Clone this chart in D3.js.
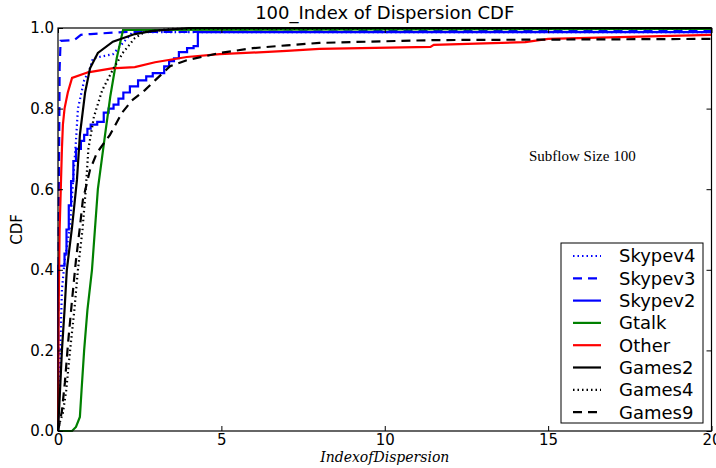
<!DOCTYPE html>
<html>
<head>
<meta charset="utf-8">
<script src="https://cdn.jsdelivr.net/npm/d3@7"></script>
<style>
  body { margin: 0; background: #fff; }
  #chart svg { display: block; }
</style>
</head>
<body>
<div id="chart"></div>
<script>
// Series, [index of dispersion, CDF]
const skypev4 = [[0, 0], [0.05, 0.15], [0.12, 0.35], [0.2, 0.42], [0.37, 0.51], [0.46, 0.62], [0.55, 0.72],
  [0.61, 0.8], [0.8, 0.87], [0.98, 0.9], [1.07, 0.925], [1.68, 0.935], [1.99, 0.963], [2.29, 0.99], [20, 0.99]];
const skypev3 = [[0, 0], [0.02, 0.5], [0.05, 0.9], [0.08, 0.968], [0.5, 0.97], [0.7, 0.983], [1.0, 0.985],
  [2.0, 0.99], [20, 0.995]];
const skypev2 = [[0, 0], [0, 0.41], [0.2, 0.44], [0.26, 0.5], [0.33, 0.56], [0.4, 0.62], [0.47, 0.67], [0.55, 0.7],
  [0.7, 0.72], [0.8, 0.735], [0.9, 0.75], [1.0, 0.76], [1.2, 0.767], [1.4, 0.79], [1.55, 0.8], [1.7, 0.81],
  [1.85, 0.825], [2.0, 0.84], [2.2, 0.855], [2.45, 0.87], [2.7, 0.88], [2.9, 0.888], [3.25, 0.905], [3.4, 0.918],
  [3.55, 0.925], [3.7, 0.94], [3.95, 0.95], [4.15, 0.955], [4.28, 0.99], [20, 0.99]];
const gtalk = [[0, 0], [0.43, 0], [0.55, 0.01], [0.67, 0.035], [0.72, 0.1], [0.8, 0.2], [0.9, 0.3], [1.04, 0.4],
  [1.22, 0.6], [1.44, 0.735], [1.6, 0.83], [1.8, 0.926], [1.99, 0.995], [20, 0.998]];
const other = [[0, 0], [0.02, 0.3], [0.05, 0.5], [0.12, 0.7], [0.15, 0.76], [0.2, 0.8], [0.3, 0.84], [0.43, 0.876],
  [0.92, 0.89], [1.65, 0.9], [2.35, 0.903], [2.97, 0.915], [3.94, 0.928], [4.95, 0.935], [7, 0.943], [8, 0.948],
  [11.4, 0.953], [11.5, 0.958], [14.3, 0.965], [15, 0.973], [20, 0.983]];
const games2 = [[0, 0], [0.05, 0.08], [0.12, 0.2], [0.2, 0.3], [0.27, 0.4], [0.43, 0.506], [0.58, 0.623],
  [0.67, 0.735], [0.83, 0.84], [0.98, 0.9], [1.22, 0.938], [1.68, 0.966], [2.35, 0.985], [2.9, 0.993], [4, 1.0], [20, 1.0]];
const games4 = [[0, 0], [0.05, 0.02], [0.15, 0.045], [0.25, 0.1], [0.37, 0.2], [0.5, 0.3], [0.61, 0.4], [0.75, 0.5],
  [0.85, 0.6], [0.93, 0.7], [1.1, 0.78], [1.35, 0.845], [1.7, 0.9], [2.0, 0.94], [2.35, 0.975], [2.65, 0.99],
  [3.5, 0.998], [20, 1.0]];
const games9 = [[0, 0], [0.05, 0.02], [0.12, 0.05], [0.21, 0.12], [0.31, 0.22], [0.43, 0.325], [0.55, 0.424],
  [0.67, 0.506], [0.76, 0.573], [0.98, 0.648], [1.19, 0.69], [1.59, 0.735], [1.96, 0.79], [2.26, 0.82],
  [2.66, 0.846], [2.97, 0.87], [3.43, 0.905], [3.94, 0.92], [4.95, 0.938], [5.96, 0.95], [7, 0.957], [8, 0.963],
  [9.45, 0.966], [11.5, 0.97], [20, 0.973]];

const seriesNames = ["Skypev4", "Skypev3", "Skypev2", "Gtalk", "Other", "Games2", "Games4", "Games9"];
const xTicks = [0, 5, 10, 15, 20];
const yTicks = [0, 0.2, 0.4, 0.6, 0.8, 1.0];

// line styles per series
const styles = [
  { data: skypev4, color: "#0000ff", dash: "1.5,3" },
  { data: skypev3, color: "#0000ff", dash: "9,6" },
  { data: skypev2, color: "#0000ff", dash: null, step: true },
  { data: gtalk, color: "#008000", dash: null },
  { data: other, color: "#ff0000", dash: null },
  { data: games2, color: "#000000", dash: null },
  { data: games4, color: "#000000", dash: "1.5,3" },
  { data: games9, color: "#000000", dash: "9,6" }
];

const width = 716,
      height = 468;
const margin = { top: 28, right: 4, bottom: 37, left: 58 };

const svg = d3.select("#chart")
  .append("svg")
  .attr("width", width)
  .attr("height", height);

const x = d3.scaleLinear().domain([0, 20]).range([margin.left, width - margin.right - 0.5]);
const y = d3.scaleLinear().domain([0, 1]).range([height - margin.bottom, margin.top]);

svg.append("clipPath").attr("id", "plot-clip")
  .append("rect")
  .attr("x", x(0) - 1).attr("y", y(1) - 2)
  .attr("width", x(20) - x(0) + 2).attr("height", y(0) - y(1) + 4);

// lines
const plot = svg.append("g").attr("clip-path", "url(#plot-clip)");
styles.forEach(s => {
  const line = d3.line()
    .x(d => x(d[0]))
    .y(d => y(d[1]))
    .curve(s.step ? d3.curveStepAfter : d3.curveLinear);
  plot.append("path")
    .datum(s.data)
    .attr("fill", "none")
    .attr("stroke", s.color)
    .attr("stroke-width", 2.2)
    .attr("stroke-dasharray", s.dash)
    .attr("d", line);
});

// axes: ticks point inward on all four sides, like matplotlib
const fontTick = "DejaVu Sans, sans-serif";
const bottomAxis = svg.append("g")
  .attr("transform", `translate(0, ${y(0)})`)
  .call(d3.axisBottom(x).tickValues(xTicks).tickFormat(d3.format("d")).tickSizeInner(-5).tickSizeOuter(0).tickPadding(3));
const topAxis = svg.append("g")
  .attr("transform", `translate(0, ${y(1)})`)
  .call(d3.axisTop(x).tickValues(xTicks).tickFormat("").tickSizeInner(-5).tickSizeOuter(0));
const leftAxis = svg.append("g")
  .attr("transform", `translate(${x(0)}, 0)`)
  .call(d3.axisLeft(y).tickValues(yTicks).tickFormat(d3.format(".1f")).tickSizeInner(-5).tickSizeOuter(0).tickPadding(4));
const rightAxis = svg.append("g")
  .attr("transform", `translate(${x(20)}, 0)`)
  .call(d3.axisRight(y).tickValues(yTicks).tickFormat("").tickSizeInner(-5).tickSizeOuter(0));

[bottomAxis, topAxis, leftAxis, rightAxis].forEach(g => {
  g.select(".domain").remove();
  g.selectAll("line").attr("stroke", "#000");
  g.selectAll("text").attr("fill", "#000").style("font-family", fontTick).style("font-size", "15px");
});

// frame
svg.append("rect")
  .attr("x", x(0)).attr("y", y(1))
  .attr("width", x(20) - x(0)).attr("height", y(0) - y(1))
  .attr("fill", "none").attr("stroke", "#000").attr("stroke-width", 1.2);

// title and axis labels
svg.append("text")
  .attr("x", (x(0) + x(20)) / 2).attr("y", 19)
  .attr("text-anchor", "middle")
  .style("font-family", fontTick).style("font-size", "18px")
  .text("100_Index of Dispersion CDF");

svg.append("text")
  .attr("transform", `translate(22, ${(y(0) + y(1)) / 2}) rotate(-90)`)
  .attr("text-anchor", "middle")
  .style("font-family", fontTick).style("font-size", "15px")
  .text("CDF");

svg.append("text")
  .attr("x", (x(0) + x(20)) / 2).attr("y", 462)
  .attr("text-anchor", "middle")
  .style("font-family", "DejaVu Serif, serif").style("font-style", "italic").style("font-size", "14px")
  .text("IndexofDispersion");

svg.append("text")
  .attr("x", 529).attr("y", 161)
  .style("font-family", "Liberation Serif, serif").style("font-size", "15px")
  .text("Subflow Size 100");

// legend
const legend = svg.append("g");
const legX = 561, legY = 243, rowH = 22.3;
legend.append("rect")
  .attr("x", legX).attr("y", legY)
  .attr("width", 142).attr("height", 180)
  .attr("fill", "#fff").attr("stroke", "#000").attr("stroke-width", 1);

seriesNames.forEach((name, i) => {
  const cy = legY + 13 + i * rowH;
  legend.append("line")
    .attr("x1", legX + 12).attr("x2", legX + 40)
    .attr("y1", cy).attr("y2", cy)
    .attr("stroke", styles[i].color)
    .attr("stroke-width", 2.2)
    .attr("stroke-dasharray", styles[i].dash);
  legend.append("text")
    .attr("x", legX + 58).attr("y", cy)
    .attr("dy", "0.36em")
    .style("font-family", fontTick).style("font-size", "18px")
    .text(name);
});
</script>
</body>
</html>
